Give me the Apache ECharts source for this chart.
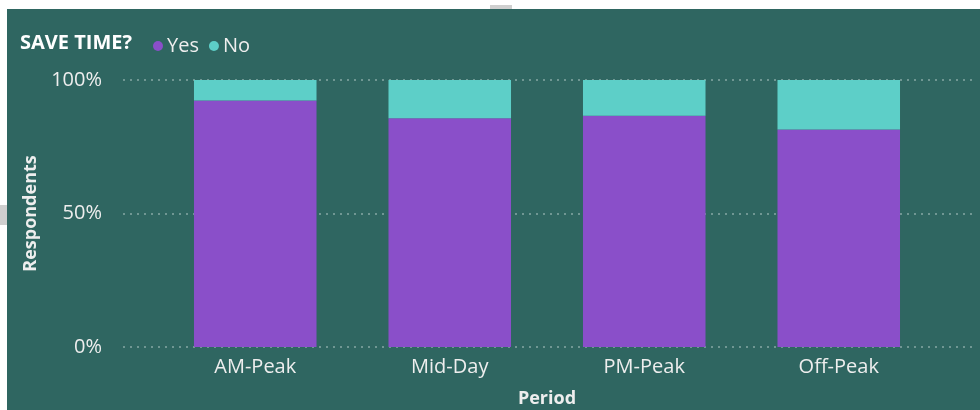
<!DOCTYPE html>
<html>
<head>
<meta charset="utf-8">
<style>
  html, body { margin: 0; padding: 0; background: #ffffff; }
  #chart { width: 980px; height: 410px; }
</style>
<script src="https://cdn.jsdelivr.net/npm/echarts@6/dist/echarts.min.js"></script>
</head>
<body>
<div id="chart"></div>
<script>
// Share of respondents who said the service saves them time, by travel period
const periods = ['AM-Peak', 'Mid-Day', 'PM-Peak', 'Off-Peak'];
const yesShare = [92.3, 85.7, 86.6, 81.5];
const noShare = [7.7, 14.3, 13.4, 18.5];
const yTicks = [0, 50, 100];

const panelBg = '#2f6661';
const yesColor = '#8a4fc9';
const noColor = '#5dcfc8';
const textColor = '#eeeeee';
const font = '"Open Sans", "Noto Sans", sans-serif';

const chart = echarts.init(document.getElementById('chart'), null, { renderer: 'canvas' });

chart.setOption({
  backgroundColor: '#ffffff',
  animation: false,
  textStyle: { fontFamily: font },
  graphic: [
    { type: 'rect', z: -10, shape: { x: 7, y: 9, width: 973, height: 401 }, style: { fill: panelBg } },
    { type: 'rect', z: -9, shape: { x: 490, y: 5, width: 22, height: 4 }, style: { fill: '#cfcfcf' } },
    { type: 'rect', z: -9, shape: { x: 0, y: 205, width: 7, height: 20 }, style: { fill: '#cfcfcf' } },
    {
      type: 'text', left: 20, top: 33,
      style: { text: 'SAVE TIME?', fill: '#ffffff', font: 'bold 20px ' + font }
    }
  ],
  legend: {
    left: 148, top: 31,
    icon: 'circle',
    itemWidth: 12, itemHeight: 10, itemGap: 10,
    textStyle: { color: textColor, fontSize: 20, fontFamily: font, padding: [0, 0, 0, -2] },
    data: ['Yes', 'No']
  },
  grid: [
    { left: 158, right: 44, top: 80, bottom: 63, outerBoundsMode: 'none', containLabel: false },
    { left: 123, right: 5, top: 80, bottom: 63, outerBoundsMode: 'none', containLabel: false }
  ],
  xAxis: [
    {
      type: 'category', gridIndex: 0, data: periods,
      axisLine: { show: false }, axisTick: { show: false },
      axisLabel: { color: textColor, fontSize: 20, fontFamily: font, margin: 10 },
      name: 'Period', nameLocation: 'middle', nameGap: 43,
      nameTextStyle: { color: textColor, fontSize: 18, fontWeight: 'bold', fontFamily: font }
    },
    { type: 'value', gridIndex: 1, min: 0, max: 1, show: false }
  ],
  yAxis: [
    {
      type: 'value', gridIndex: 0, min: 0, max: 100, interval: 50,
      axisLine: { show: false }, axisTick: { show: false },
      axisLabel: { show: false }, splitLine: { show: false }
    },
    {
      type: 'value', gridIndex: 1, min: yTicks[0], max: yTicks[yTicks.length - 1], interval: 50,
      axisLine: { show: false }, axisTick: { show: false },
      axisLabel: { color: textColor, fontSize: 20, fontFamily: font, margin: 21, formatter: '{value}%' },
      splitLine: { show: true, lineStyle: { color: '#86a8a4', width: 1.5, type: [2, 5] } },
      name: 'Respondents', nameLocation: 'middle', nameGap: 83,
      nameTextStyle: { color: textColor, fontSize: 18, fontWeight: 'bold', fontFamily: font }
    }
  ],
  series: [
    {
      name: 'Yes', type: 'bar', stack: 'share', xAxisIndex: 0, yAxisIndex: 0,
      barCategoryGap: '37%', data: yesShare, itemStyle: { color: yesColor }, z: 3
    },
    {
      name: 'No', type: 'bar', stack: 'share', xAxisIndex: 0, yAxisIndex: 0,
      barCategoryGap: '37%', data: noShare, itemStyle: { color: noColor }, z: 3
    }
  ]
});
</script>
</body>
</html>
